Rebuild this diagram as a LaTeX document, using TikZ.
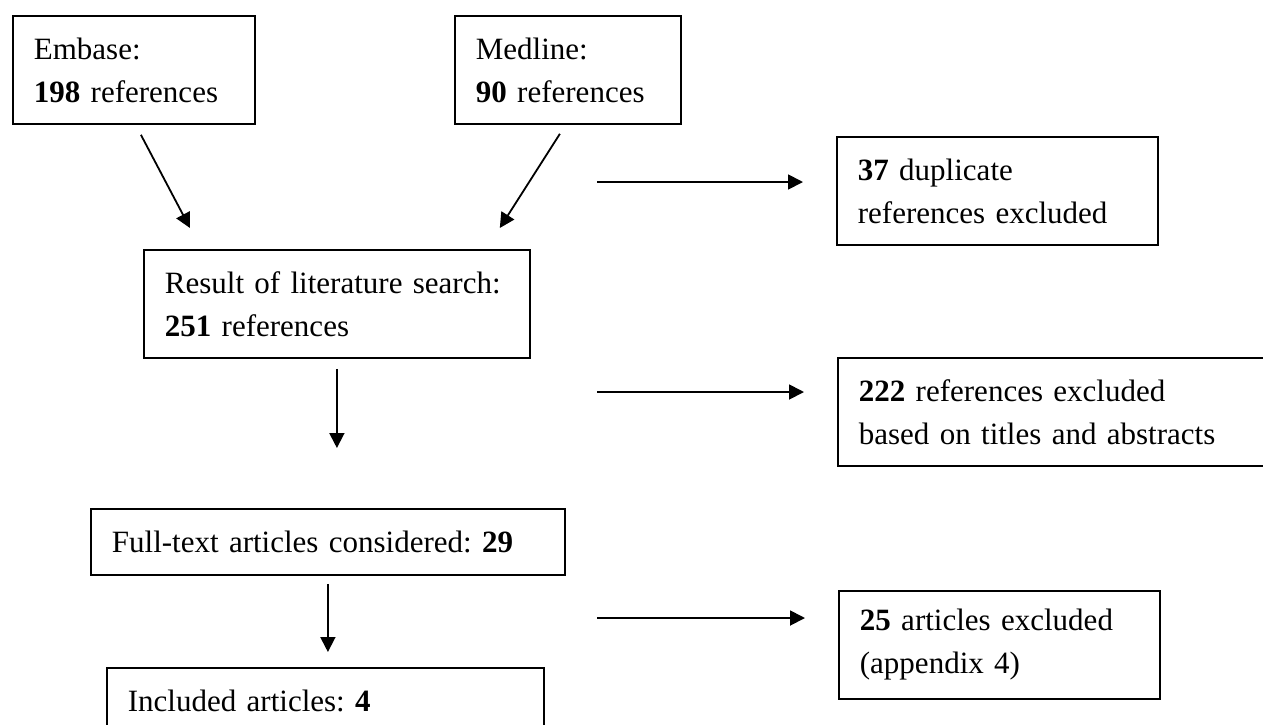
\documentclass[tikz,border=0pt]{standalone}
\usepackage{fontspec}
\setmainfont{Liberation Serif}
\usetikzlibrary{arrows.meta,calc}
\newcommand{\boxfont}{\fontsize{15.5}{21.5}\selectfont\frenchspacing}

\begin{document}
\begin{tikzpicture}[x=0.5pt, y=-0.5pt,
    refbox/.style={rectangle, draw, line width=0.9pt, anchor=north west, align=left,
      inner xsep=10.5pt, inner ysep=0pt, font=\boxfont},
    tall/.style={minimum height=54pt},
    flat/.style={minimum height=33pt},
    flow/.style={-{Triangle[length=7.5pt,width=7.5pt]}, line width=0.9pt}]
  \clip (0,0) rectangle (1263,724);

  % Databases searched
  \node[refbox, tall, text width=100pt] (embase) at (12,15) {Embase:\\\textbf{198} references};
  \node[refbox, tall, text width=92pt] (medline) at (454,15) {Medline:\\\textbf{90} references};

  % Main column
  \node[refbox, tall, text width=172pt] (result) at (143,249) {Result of literature search:\\\textbf{251} references};
  \node[refbox, flat, text width=216pt] (fulltext) at (90,508) {Full-text articles considered: \textbf{29}};
  \node[refbox, flat, text width=197.5pt] (included) at (106,667) {Included articles: \textbf{4}};

  % Exclusions
  \node[refbox, tall, text width=139.5pt] (dup) at (836,136) {\textbf{37} duplicate\\references excluded};
  \node[refbox, tall, text width=209pt] (screen) at (837,357) {\textbf{222} references excluded\\based on titles and abstracts};
  \node[refbox, tall, text width=139.5pt] (excl) at (838,590) {\textbf{25} articles excluded\\(appendix 4)};

  % Flow down
  \draw[flow] ($(embase.south)+(7,10)$) -- ($(result.north west)+(47,-21)$);
  \draw[flow] ($(medline.south)+(-8,9)$) -- ($(result.north east)+(-31,-21)$);
  \draw[flow, shorten <=5pt, shorten >=30pt] (result.south) -- (result.south |- fulltext.north);
  \draw[flow, shorten <=4pt, shorten >=7.5pt] (fulltext.south) -- (fulltext.south |- included.north);

  % Flow to exclusions
  \coordinate (dupfrom) at (597,182);
  \coordinate (screenfrom) at (597,392);
  \coordinate (exclfrom) at (597,618);
  \draw[flow, shorten >=16.5pt] (dupfrom) -- (dupfrom -| dup.west);
  \draw[flow, shorten >=16.5pt] (screenfrom) -- (screenfrom -| screen.west);
  \draw[flow, shorten >=16.5pt] (exclfrom) -- (exclfrom -| excl.west);
\end{tikzpicture}
\end{document}
